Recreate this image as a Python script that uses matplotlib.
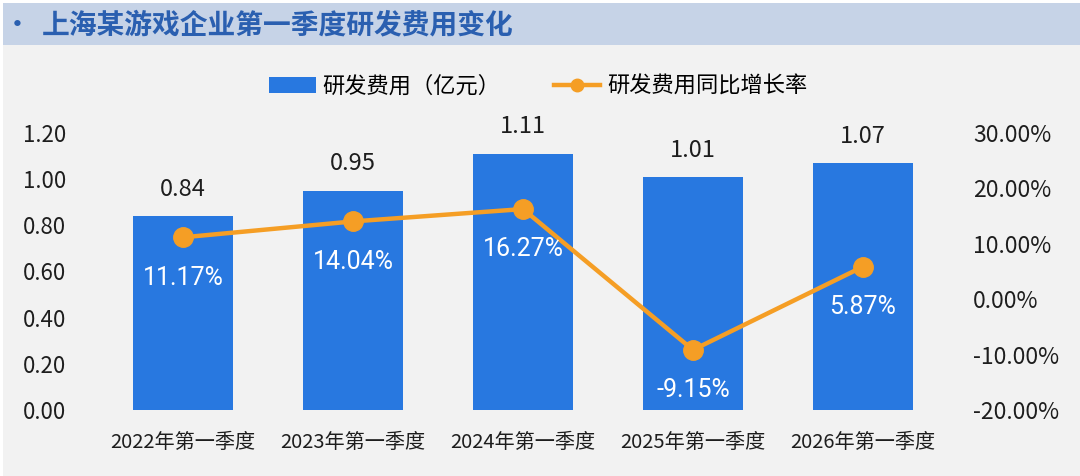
import matplotlib
matplotlib.use("Agg")
import matplotlib.pyplot as plt
from matplotlib.patches import Rectangle
from matplotlib.lines import Line2D

plt.rcParams['font.family'] = ['Noto Sans CJK SC', 'DejaVu Sans']

categories = ["2022年第一季度", "2023年第一季度", "2024年第一季度", "2025年第一季度", "2026年第一季度"]
rd_cost = [0.84, 0.95, 1.11, 1.01, 1.07]
yoy_growth = [11.17, 14.04, 16.27, -9.15, 5.87]
left_ticks = [0.0, 0.2, 0.4, 0.6, 0.8, 1.0, 1.2]
right_ticks = [-20, -10, 0, 10, 20, 30]

title = "上海某游戏企业第一季度研发费用变化"
bar_label = "研发费用（亿元）"
line_label = "研发费用同比增长率"

bar_color = "#2878e0"
line_color = "#f59e25"
bg = "#f2f2f2"
txt = "#1e1e1e"

fig = plt.figure(figsize=(10.8, 4.76), dpi=100, facecolor="white")
fig.patches.append(Rectangle((3/1080, 0), 1 - 3/1080, 1 - 3/476, transform=fig.transFigure,
                             facecolor=bg, edgecolor="none", zorder=-10))
fig.patches.append(Rectangle((3/1080, 1 - 45/476), 1 - 3/1080, 42/476, transform=fig.transFigure,
                             facecolor="#c6d3e7", edgecolor="none", zorder=-9))
fig.text(17/1080, 1 - 25/476, "•", fontsize=18, fontweight="bold", color="#2a5fb0",
         va="center", ha="center")
fig.text(42/1080, 1 - 25/476, title, fontsize=20, fontweight="bold", color="#2a5fb0",
         va="center", ha="left")

ax = fig.add_axes([98/1080, 66/476, 850/1080, 277/476])
ax.set_facecolor("none")
x = list(range(len(categories)))
ax.bar(x, rd_cost, width=0.59, color=bar_color, zorder=2)
ax.set_xlim(-0.5, len(categories) - 0.5)
ax.set_ylim(0, 1.2)
ax.set_yticks(left_ticks)
ax.set_yticklabels([f"{v:.2f}" for v in left_ticks], fontsize=16, color=txt)
ax.set_xticks(x)
ax.set_xticklabels(categories, fontsize=14.5, color=txt)
ax.tick_params(axis="y", length=0, pad=23)
ax.tick_params(axis="x", length=0, pad=16)
for s in ax.spines.values():
    s.set_visible(False)
for xi, v in zip(x, rd_cost):
    ax.annotate(f"{v:.2f}", (xi, v), xytext=(0, 11), textcoords="offset points",
                ha="center", va="bottom", fontsize=17, color=txt)

ax2 = ax.twinx()
ax2.set_ylim(-20, 30)
ax2.set_yticks(right_ticks)
ax2.set_yticklabels([f"{v:.2f}%" for v in right_ticks], fontsize=16.5, color=txt)
ax2.tick_params(axis="y", length=0, pad=18)
for s in ax2.spines.values():
    s.set_visible(False)
ax2.plot(x, yoy_growth, color=line_color, lw=3.2, marker="o", markersize=14, zorder=3)
for xi, v in zip(x, yoy_growth):
    ax2.annotate(f"{v:.2f}%", (xi, v), xytext=(0, -29), textcoords="offset points",
                 ha="center", va="center", fontsize=18, color="white",
                 family=["Roboto", "DejaVu Sans"])

handles = [Rectangle((0, 0), 1, 1, facecolor=bar_color),
           Line2D([0], [0], color=line_color, lw=3.2, marker="o", markersize=9)]
fig.legend(handles, [bar_label, line_label], loc="center", bbox_to_anchor=(538/1080, 1 - 86/476),
           ncol=2, frameon=False, fontsize=16, handlelength=2.1, columnspacing=2.4,
           handletextpad=0.3)

fig.savefig("out.png", dpi=100, facecolor=fig.get_facecolor())
